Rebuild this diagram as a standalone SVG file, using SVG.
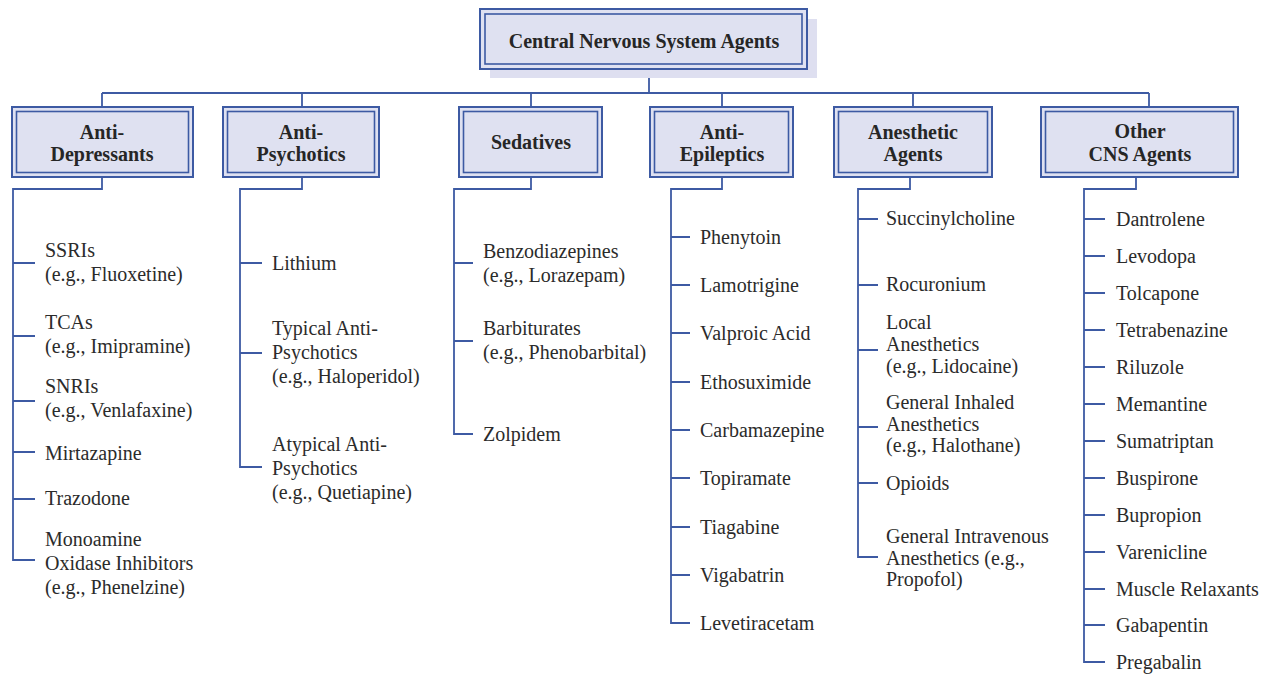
<svg xmlns="http://www.w3.org/2000/svg" width="1270" height="675" viewBox="0 0 1270 675">
<style>
.bg{fill:#ffffff}
.shadow{fill:#dedff0}
.outer{fill:#dfe1f1;stroke:#3d5aa3;stroke-width:2}
.inner{fill:none;stroke:#3d5aa3;stroke-width:1.6}
.hd{font-family:"Liberation Serif","Times New Roman",serif;font-weight:bold;font-size:20px;fill:#262626;text-anchor:middle}
.it{font-family:"Liberation Serif","Times New Roman",serif;font-size:20px;fill:#2b2b2b}
.ln{fill:none;stroke:#3d5aa3;stroke-width:1.8}
</style>
<rect class="bg" x="0" y="0" width="1270" height="675"/>

<g id="connectors">
  <path class="ln" d="M649 69V93M102 93H1149M102 93V107M302 93V107M531 93V107M722 93V107M913 93V107M1149 93V107"/>
  <!-- Anti-Depressants -->
  <path class="ln" d="M102 177V189H13V560H35M13 263H35M13 336H35M13 401H35M13 452H35M13 499H35"/>
  <!-- Anti-Psychotics -->
  <path class="ln" d="M302 177V189H240V467H262M240 263H262M240 353H262"/>
  <!-- Sedatives -->
  <path class="ln" d="M531 177V189H454V434H473M454 263H473M454 341H473"/>
  <!-- Anti-Epileptics -->
  <path class="ln" d="M722 177V189H671V623H690M671 237H690M671 285H690M671 333H690M671 382H690M671 430H690M671 478H690M671 527H690M671 575H690"/>
  <!-- Anesthetic Agents -->
  <path class="ln" d="M910 177V189H858V557H878M858 219H878M858 285H878M858 350H878M858 427H878M858 483H878"/>
  <!-- Other CNS Agents -->
  <path class="ln" d="M1136 177V189H1084V662H1105M1084 219H1105M1084 256H1105M1084 293H1105M1084 330H1105M1084 367H1105M1084 404H1105M1084 441H1105M1084 478H1105M1084 515H1105M1084 552H1105M1084 589H1105M1084 625H1105"/>
</g>

<g id="root">
  <rect class="shadow" x="490" y="19" width="327" height="59"/>
  <rect class="outer" x="480" y="9" width="327" height="60"/>
  <rect class="inner" x="485" y="14" width="317" height="50"/>
  <text class="hd" x="644" y="48">Central Nervous System Agents</text>
</g>

<g id="antidepressants">
  <rect class="outer" x="12" y="107" width="181" height="70"/>
  <rect class="inner" x="16.5" y="111.5" width="172" height="61"/>
  <text class="hd" x="102" y="139">Anti-</text>
  <text class="hd" x="102" y="161">Depressants</text>
  <text class="it" x="45" y="257">SSRIs</text>
  <text class="it" x="45" y="281">(e.g., Fluoxetine)</text>
  <text class="it" x="45" y="329">TCAs</text>
  <text class="it" x="45" y="353">(e.g., Imipramine)</text>
  <text class="it" x="45" y="393">SNRIs</text>
  <text class="it" x="45" y="417">(e.g., Venlafaxine)</text>
  <text class="it" x="45" y="460">Mirtazapine</text>
  <text class="it" x="45" y="505">Trazodone</text>
  <text class="it" x="45" y="546">Monoamine</text>
  <text class="it" x="45" y="570">Oxidase Inhibitors</text>
  <text class="it" x="45" y="594">(e.g., Phenelzine)</text>
</g>

<g id="antipsychotics">
  <rect class="outer" x="223" y="107" width="156" height="70"/>
  <rect class="inner" x="227.5" y="111.5" width="147" height="61"/>
  <text class="hd" x="301" y="139">Anti-</text>
  <text class="hd" x="301" y="161">Psychotics</text>
  <text class="it" x="272" y="270">Lithium</text>
  <text class="it" x="272" y="335">Typical Anti-</text>
  <text class="it" x="272" y="359">Psychotics</text>
  <text class="it" x="272" y="383">(e.g., Haloperidol)</text>
  <text class="it" x="272" y="451">Atypical Anti-</text>
  <text class="it" x="272" y="475">Psychotics</text>
  <text class="it" x="272" y="499">(e.g., Quetiapine)</text>
</g>

<g id="sedatives">
  <rect class="outer" x="459" y="107" width="143" height="70"/>
  <rect class="inner" x="463.5" y="111.5" width="134" height="61"/>
  <text class="hd" x="531" y="149">Sedatives</text>
  <text class="it" x="483" y="258">Benzodiazepines</text>
  <text class="it" x="483" y="282">(e.g., Lorazepam)</text>
  <text class="it" x="483" y="335">Barbiturates</text>
  <text class="it" x="483" y="359">(e.g., Phenobarbital)</text>
  <text class="it" x="483" y="441">Zolpidem</text>
</g>

<g id="antiepileptics">
  <rect class="outer" x="650" y="107" width="143" height="70"/>
  <rect class="inner" x="654.5" y="111.5" width="134" height="61"/>
  <text class="hd" x="722" y="139">Anti-</text>
  <text class="hd" x="722" y="161">Epileptics</text>
  <text class="it" x="700" y="244">Phenytoin</text>
  <text class="it" x="700" y="292">Lamotrigine</text>
  <text class="it" x="700" y="340">Valproic Acid</text>
  <text class="it" x="700" y="389">Ethosuximide</text>
  <text class="it" x="700" y="437">Carbamazepine</text>
  <text class="it" x="700" y="485">Topiramate</text>
  <text class="it" x="700" y="534">Tiagabine</text>
  <text class="it" x="700" y="582">Vigabatrin</text>
  <text class="it" x="700" y="630">Levetiracetam</text>
</g>

<g id="anesthetics">
  <rect class="outer" x="834" y="107" width="158" height="70"/>
  <rect class="inner" x="838.5" y="111.5" width="149" height="61"/>
  <text class="hd" x="913" y="139">Anesthetic</text>
  <text class="hd" x="913" y="161">Agents</text>
  <text class="it" x="886" y="225">Succinylcholine</text>
  <text class="it" x="886" y="291">Rocuronium</text>
  <text class="it" x="886" y="329">Local</text>
  <text class="it" x="886" y="351">Anesthetics</text>
  <text class="it" x="886" y="373">(e.g., Lidocaine)</text>
  <text class="it" x="886" y="409">General Inhaled</text>
  <text class="it" x="886" y="431">Anesthetics</text>
  <text class="it" x="886" y="452">(e.g., Halothane)</text>
  <text class="it" x="886" y="490">Opioids</text>
  <text class="it" x="886" y="543">General Intravenous</text>
  <text class="it" x="886" y="565">Anesthetics (e.g.,</text>
  <text class="it" x="886" y="586">Propofol)</text>
</g>

<g id="othercns">
  <rect class="outer" x="1041" y="107" width="197" height="70"/>
  <rect class="inner" x="1045.5" y="111.5" width="188" height="61"/>
  <text class="hd" x="1140" y="138">Other</text>
  <text class="hd" x="1140" y="161">CNS Agents</text>
  <text class="it" x="1116" y="226">Dantrolene</text>
  <text class="it" x="1116" y="263">Levodopa</text>
  <text class="it" x="1116" y="300">Tolcapone</text>
  <text class="it" x="1116" y="337">Tetrabenazine</text>
  <text class="it" x="1116" y="374">Riluzole</text>
  <text class="it" x="1116" y="411">Memantine</text>
  <text class="it" x="1116" y="448">Sumatriptan</text>
  <text class="it" x="1116" y="485">Buspirone</text>
  <text class="it" x="1116" y="522">Bupropion</text>
  <text class="it" x="1116" y="559">Varenicline</text>
  <text class="it" x="1116" y="596">Muscle Relaxants</text>
  <text class="it" x="1116" y="632">Gabapentin</text>
  <text class="it" x="1116" y="669">Pregabalin</text>
</g>
</svg>
